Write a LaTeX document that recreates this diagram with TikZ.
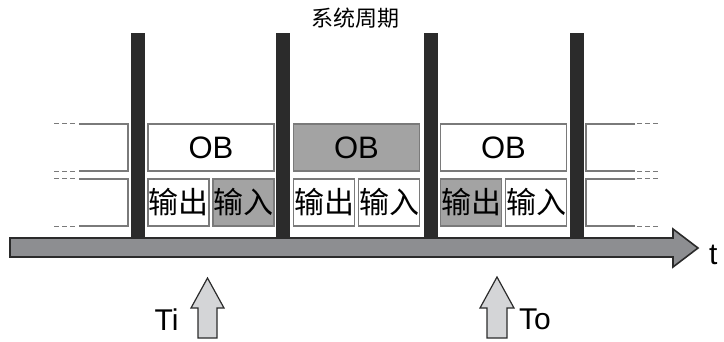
\documentclass[tikz,border=0pt]{standalone}
\usepackage{fontspec}
\setmainfont{Liberation Sans}
\newfontfamily\cjk{Noto Sans CJK SC}
\usetikzlibrary{positioning}
\definecolor{barblack}{HTML}{2B2B2B}
\definecolor{boxgray}{HTML}{7A7A7A}
\definecolor{fillgray}{HTML}{A3A3A3}
\definecolor{axisgray}{HTML}{8D8E91}
\definecolor{hollowgray}{HTML}{D4D5D7}

\begin{document}
\begin{tikzpicture}[
    x=1pt, y=-1pt,
    ob box/.style={rectangle, draw=boxgray, line width=1.8pt, fill=white, minimum width=126pt, minimum height=47.2pt, inner sep=0pt, font=\fontsize{31}{31}\selectfont},
    io box/.style={rectangle, draw=boxgray, line width=1.8pt, fill=white, minimum width=61pt, minimum height=47.2pt, inner sep=0pt, font=\cjk\fontsize{30}{30}\selectfont},
    busy/.style={fill=fillgray},
    cycle bar/.style={fill=barblack},
    open end/.style={draw=boxgray, line width=1.8pt},
    open dash/.style={draw=boxgray, line width=1.2pt, dash pattern=on 5pt off 3pt},
    time axis/.style={fill=axisgray, draw=barblack, line width=1.6pt, line join=miter},
    marker/.style={fill=hollowgray, draw=barblack, line width=1.2pt, line join=miter},
    label text/.style={font=\fontsize{30}{30}\selectfont, inner sep=0pt}
]
    \useasboundingbox (0,0) rectangle (724,341);

    % Title
    \node[font=\cjk\fontsize{22}{22}\selectfont] (title) at (355,18) {系统周期};

    % Cycle boundaries
    \foreach \x in {138,283,431,577}
        \fill[cycle bar] (\x-7,33) rectangle (\x+7,238);

    % OB blocks
    \node[ob box] (ob1) at (211,147.5) {OB};
    \node[ob box, busy] (ob2) at (356.5,147.5) {OB};
    \node[ob box] (ob3) at (503.5,147.5) {OB};

    % Output / input blocks
    \node[io box, anchor=north west] (out1) at ([yshift=-6pt]ob1.south west) {输出};
    \node[io box, busy, anchor=north east] (in1) at ([yshift=-6pt]ob1.south east) {输入};
    \node[io box, anchor=north west] (out2) at ([yshift=-6pt]ob2.south west) {输出};
    \node[io box, anchor=north east] (in2) at ([yshift=-6pt]ob2.south east) {输入};
    \node[io box, busy, anchor=north west] (out3) at ([yshift=-6pt]ob3.south west) {输出};
    \node[io box, anchor=north east] (in3) at ([yshift=-6pt]ob3.south east) {输入};

    % Previous and next cycles
    \draw[open end] (79,123.8) -- (128,123.8) -- (128,171.2) -- (79,171.2);
    \draw[open end] (79,178.8) -- (128,178.8) -- (128,226.2) -- (79,226.2);
    \draw[open dash] (54,123.8) -- (77,123.8) (54,171.2) -- (77,171.2)
                     (54,178.8) -- (77,178.8) (54,226.2) -- (77,226.2);
    \draw[open end] (635,123.8) -- (586,123.8) -- (586,171.2) -- (635,171.2);
    \draw[open end] (635,178.8) -- (586,178.8) -- (586,226.2) -- (635,226.2);
    \draw[open dash] (637,123.8) -- (660,123.8) (637,171.2) -- (660,171.2)
                     (637,178.8) -- (660,178.8) (637,226.2) -- (660,226.2);

    % Time axis
    \draw[time axis] (10,238) -- (673,238) -- (673,229) -- (698,248)
        -- (673,267) -- (673,257) -- (10,257) -- cycle;
    \node[label text, anchor=base west] (t) at (709,264) {t};

    % Ti and To
    \draw[marker] (198,338) -- (198,308) -- (191,308) -- (207.5,278)
        -- (224,308) -- (217,308) -- (217,338) -- cycle;
    \node[label text, anchor=base] (ti) at (166.5,330) {Ti};
    \draw[marker] (487,338) -- (487,308) -- (480,308) -- (497,277)
        -- (514,308) -- (507,308) -- (507,338) -- cycle;
    \node[label text, anchor=base] (to) at (535,329) {To};
\end{tikzpicture}
\end{document}
